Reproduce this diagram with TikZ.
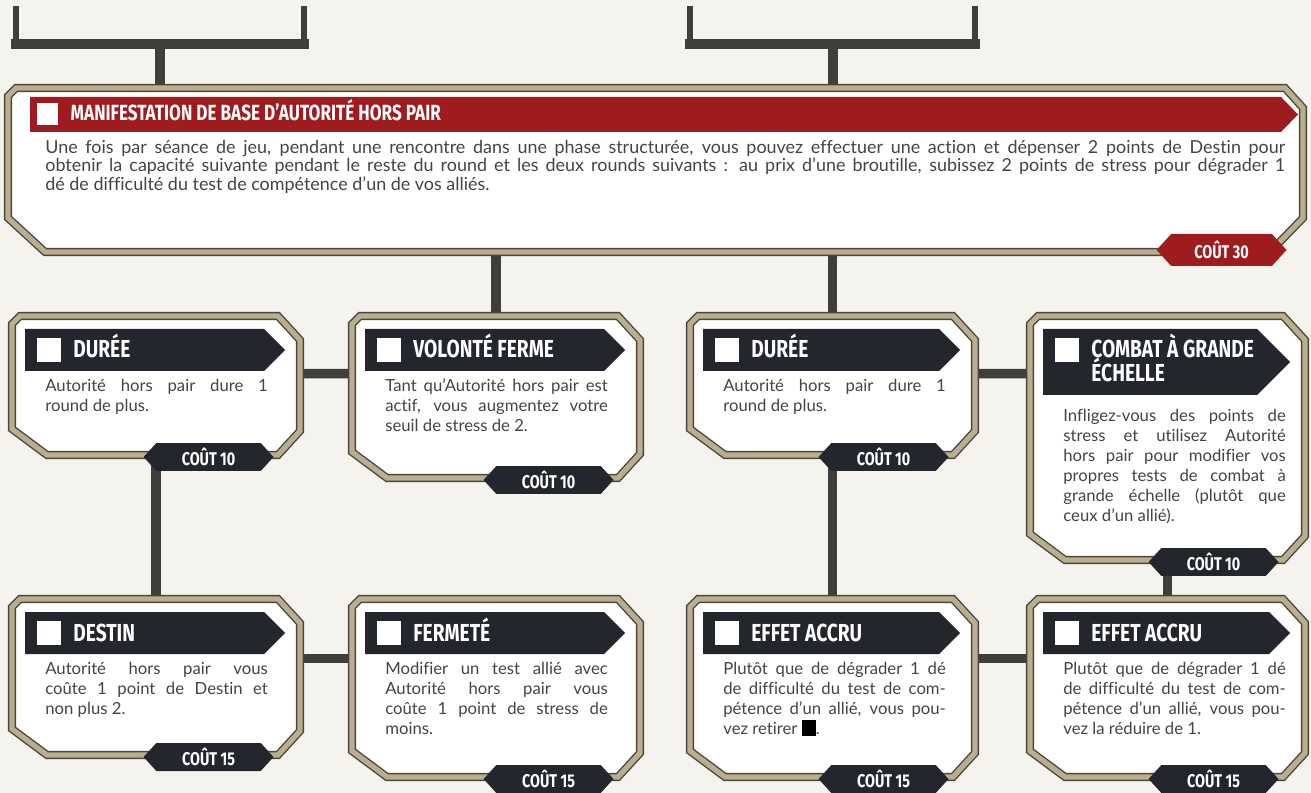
\documentclass[tikz,border=0pt]{standalone}
\usepackage{fontspec}
\setmainfont{Lato}[Ligatures={NoCommon}]
\newfontfamily\headfont[FakeStretch=0.78]{Fira Sans}
\usepackage{tikz}
\usetikzlibrary{shapes.symbols,fit,calc}
\definecolor{paper}{RGB}{245,243,237}
\definecolor{link gray}{RGB}{62,62,60}
\definecolor{card tan}{RGB}{186,174,140}
\definecolor{card edge}{RGB}{72,70,62}
\definecolor{band dark}{RGB}{36,38,46}
\definecolor{band red}{RGB}{158,28,30}
\definecolor{body gray}{RGB}{68,68,68}

\pgfdeclarelayer{back}
\pgfdeclarelayer{links}
\pgfsetlayers{back,links,main}

\tikzset{
	link/.style={draw=link gray, line width=5.5pt},
	stub/.style={draw=link gray, line width=3.2pt},
	bar/.style={draw=link gray, line width=6pt, line cap=rect},
	cardline/.style={draw=card edge, line width=0.8pt, double=card tan, double distance=3pt, fill=white},
	headtxt/.style={text=white, font=\headfont\bfseries\fontsize{14}{13.7}\selectfont, inner sep=0pt, align=left},
	bodytxt/.style={text=body gray, font=\fontsize{9.5}{11.4}\selectfont, text width=4.45cm, inner sep=0pt, align=flush left},
	costtag/.style={signal, signal to=west and east, signal pointer angle=95, fill=band dark, text=white,
		font=\headfont\bfseries\fontsize{10.5}{12}\selectfont, minimum width=2.6cm, minimum height=0.56cm, inner sep=0pt}
}

% white box before a title, justified line of body text
\newcommand\tick[1]{\textcolor{white}{\rule[-2pt]{#1}{#1}}\hspace{7pt}}
\newcommand\jl[1]{\makebox[\linewidth][s]{\spaceskip=0pt\relax #1}\\}

% card: [band height] name, x1, y1, x2, y2, title, text, cost
\newcommand\skillcard[9][42]{%
	\node[fit={(#3,#4) (#5,#6)}, inner sep=0pt] (#2) {};
	\draw[cardline] (#3,#4+8) -- (#3+8,#4) -- (#5-22,#4) -- (#5,#4+24)
		-- (#5,#6-24) -- (#5-22,#6) -- (#3+35,#6) -- (#3,#6-26) -- cycle;
	\fill[band dark] (#3+13,#4+13) -- (#5-15-#1/2,#4+13) -- (#5-15,#4+13+#1/2)
		-- (#5-15-#1/2,#4+13+#1) -- (#3+13,#4+13+#1) -- cycle;
	\node[headtxt, anchor=base west] (#2-title) at (#3+25,#4+42)
		{\tick{13.5pt}\begin{tabular}[t]{@{}l@{}}#7\end{tabular}};
	\node[bodytxt, anchor=north west] (#2-text) at (#3+33,#4+1.25*#1+10) {#8};
	\node[costtag, anchor=east] (#2-cost) at (#5-26,#6+2) {COÛT #9};
}

\begin{document}
\begin{tikzpicture}[x=0.02cm, y=-0.02cm]
		\useasboundingbox (0,0) rectangle (1311,793);
		\begin{pgfonlayer}{back}
			\fill[paper] (0,0) rectangle (1311,793);
		\end{pgfonlayer}
		% base manifestation
		\node[fit={(8,88) (1303,252)}, inner sep=0pt] (main) {};
		\draw[cardline] (8,96) -- (16,88) -- (1285,88) -- (1303,108) -- (1303,218)
			-- (1270,252) -- (45,252) -- (8,218) -- cycle;
		\fill[band red] (30,97) -- (1281,97) -- (1298,114.5) -- (1281,132) -- (30,132) -- cycle;
		\node[headtxt, font=\headfont\bfseries\fontsize{12.5}{13}\selectfont, anchor=base west] (main-title)
			at (37,121) {\tick{12pt}MANIFESTATION DE BASE D’AUTORITÉ HORS PAIR};
		\node[bodytxt, text width=24.8cm, font=\fontsize{10.2}{10.4}\selectfont, anchor=north west] (main-text) at (45,140)
			{\jl{Une fois par séance de jeu, pendant une rencontre dans une phase structurée, vous pouvez effectuer une action et dépenser 2 points de Destin pour}
			\jl{obtenir la capacité suivante pendant le reste du round et les deux rounds suivants : au prix d’une broutille, subissez 2 points de stress pour dégrader 1}
			dé de difficulté du test de compétence d’un de vos alliés.};
		\node[costtag, fill=band red, minimum height=0.64cm, anchor=east] (main-cost) at (1287,250) {COÛT 30};
		% first row
		\skillcard{durA}{12}{316}{300}{455}{DURÉE}
			{\jl{Autorité hors pair dure 1}round de plus.}{10}
		\skillcard{volB}{352}{316}{640}{478}{VOLONTÉ FERME}
			{\jl{Tant qu’Autorité hors pair est}\jl{actif, vous augmentez votre}seuil de stress de 2.}{10}
		\skillcard{durC}{690}{316}{975}{455}{DURÉE}
			{\jl{Autorité hors pair dure 1}round de plus.}{10}
		\skillcard[66]{combD}{1030}{316}{1305}{560}{COMBAT À GRANDE\\[-4pt]ÉCHELLE}
			{\jl{Infligez-vous des points de}\jl{stress et utilisez Autorité}\jl{hors pair pour modifier vos}%
			\jl{propres tests de combat à}\jl{grande échelle (plutôt que}ceux d’un allié).}{10}
		% second row
		\skillcard{destE}{12}{599}{300}{755}{DESTIN}
			{\jl{Autorité hors pair vous}\jl{coûte 1 point de Destin et}non plus 2.}{15}
		\skillcard{fermF}{352}{599}{640}{777}{FERMETÉ}
			{\jl{Modifier un test allié avec}\jl{Autorité hors pair vous}\jl{coûte 1 point de stress de}moins.}{15}
		\skillcard{effG}{690}{599}{975}{777}{EFFET ACCRU}
			{\jl{Plutôt que de dégrader 1 dé}\jl{de difficulté du test de com-}\jl{pétence d’un allié, vous pou-}%
			vez retirer \textcolor{black}{\rule[-1pt]{8pt}{9pt}}.}{15}
		\skillcard{effH}{1030}{599}{1305}{777}{EFFET ACCRU}
			{\jl{Plutôt que de dégrader 1 dé}\jl{de difficulté du test de com-}\jl{pétence d’un allié, vous pou-}%
			vez la réduire de 1.}{15}
		% connectors
		\coordinate (topL) at (160,44);
		\coordinate (topR) at (833,44);
		\coordinate (endL1) at (16,6);
		\coordinate (endL2) at (304,6);
		\coordinate (endR1) at (690,6);
		\coordinate (endR2) at (975,6);
		\begin{pgfonlayer}{links}
			\draw[stub] (endL1) -- (endL1 |- topL) (endL2) -- (endL2 |- topL)
				(endR1) -- (endR1 |- topR) (endR2) -- (endR2 |- topR);
			\draw[bar] (endL1 |- topL) -- (endL2 |- topL);
			\draw[bar] (endR1 |- topR) -- (endR2 |- topR);
			\draw[link] (topL) -- (topL |- main.north);
			\draw[link] (topR) -- (topR |- main.north);
			\draw[link] (main.south -| volB.north) -- (volB.north);
			\draw[link] (main.south -| durC.north) -- (durC.north);
			\draw[link] ($(durA.north east)+(0,58)$) -- ($(volB.north west)+(0,58)$);
			\draw[link] ($(durC.north east)+(0,58)$) -- ($(combD.north west)+(0,58)$);
			\draw[link] ($(destE.north east)+(0,60)$) -- ($(fermF.north west)+(0,60)$);
			\draw[link] ($(effG.north east)+(0,60)$) -- ($(effH.north west)+(0,60)$);
			\draw[link] (durA.south) -- (destE.north);
			\draw[link] (durC.south) -- (effG.north);
			\draw[link] (combD.south) -- (effH.north);
		\end{pgfonlayer}
	\end{tikzpicture}
\end{document}
